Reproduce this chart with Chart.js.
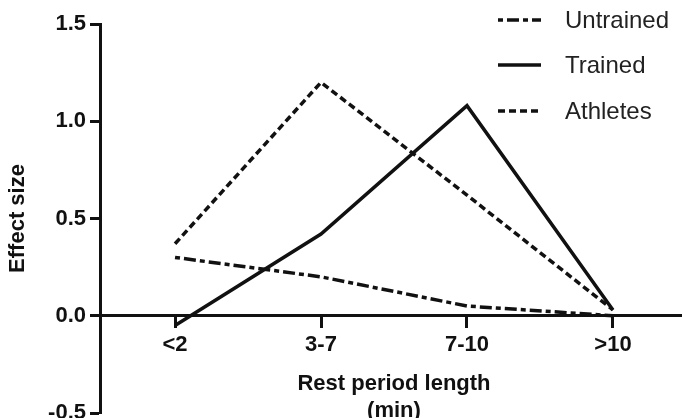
<!DOCTYPE html>
<html>
<head>
<meta charset="utf-8">
<script src="https://cdn.jsdelivr.net/npm/chart.js@4"></script>
<style>
  html, body { margin: 0; padding: 0; background: #fff; }
  canvas { display: block; }
</style>
</head>
<body>
<canvas id="effectChart" width="682" height="418"></canvas>
<script>
const categories = ['<2', '3-7', '7-10', '>10'];
const untrained = [0.30, 0.20, 0.05, 0.00];
const trained = [-0.05, 0.42, 1.08, 0.03];
const athletes = [0.37, 1.20, 0.62, 0.03];
const yTicks = [-0.5, 0.0, 0.5, 1.0, 1.5];

const ink = '#111';
const axisFont = 'Liberation Sans, Arial, Helvetica, sans-serif';

const toPoints = vals => vals.map((v, i) => ({ x: i, y: v }));

// legend + x axis title, drawn by hand to sit where the figure has them
const figureText = {
    id: 'figureText',
    afterDraw(chart) {
        const ctx = chart.ctx;
        const xs = chart.scales.x;
        ctx.save();
        ctx.fillStyle = ink;
        ctx.font = 'bold 22px ' + axisFont;
        ctx.textAlign = 'center';
        ctx.textBaseline = 'middle';
        const cx = xs.getPixelForValue((categories.length - 1) / 2);
        ctx.fillText('Rest period length', cx, 384);
        ctx.fillText('(min)', cx, 411);

        const rows = [20, 65, 111];
        chart.data.datasets.forEach((ds, i) => {
            const y = rows[i];
            ctx.beginPath();
            ctx.setLineDash(ds.borderDash || []);
            ctx.lineWidth = ds.borderWidth;
            ctx.strokeStyle = ds.borderColor;
            ctx.moveTo(498, y);
            ctx.lineTo(541, y);
            ctx.stroke();
            ctx.setLineDash([]);
            ctx.fillStyle = '#222';
            ctx.font = '24px ' + axisFont;
            ctx.textAlign = 'left';
            ctx.fillText(ds.label, 565, y + 1);
        });
        ctx.restore();
    }
};

const lineChart = new Chart(document.getElementById('effectChart'), {
    type: 'line',
    data: {
        datasets: [
            { label: 'Untrained', data: toPoints(untrained), borderColor: ink, borderWidth: 3.5, borderDash: [5, 4, 12, 4] },
            { label: 'Trained', data: toPoints(trained), borderColor: ink, borderWidth: 3.5, borderDash: [] },
            { label: 'Athletes', data: toPoints(athletes), borderColor: ink, borderWidth: 3.5, borderDash: [7, 4] }
        ]
    },
    options: {
        responsive: false,
        animation: false,
        devicePixelRatio: 1,
        elements: {
            point: { radius: 0 },
            line: { tension: 0, fill: false }
        },
        layout: { padding: { top: 24, bottom: 5, left: 0, right: 0 } },
        plugins: {
            legend: false,
            tooltip: { enabled: false }
        },
        scales: {
            x: {
                type: 'linear',
                position: { y: 0 },
                min: -0.514,
                max: 3.473,
                afterBuildTicks: scale => { scale.ticks = categories.map((c, i) => ({ value: i })); },
                afterFit: scale => { scale.paddingLeft = 0; scale.paddingRight = 0; },
                ticks: {
                    color: ink,
                    font: { family: axisFont, size: 22, weight: 'bold' },
                    padding: 5,
                    maxRotation: 0,
                    callback: v => categories[v]
                },
                grid: { drawOnChartArea: false, drawTicks: true, tickLength: 11, tickWidth: 3, tickColor: ink },
                border: { display: true, width: 3, color: ink }
            },
            y: {
                min: -0.5,
                max: 1.5,
                afterBuildTicks: scale => { scale.ticks = yTicks.map(v => ({ value: v })); },
                afterFit: scale => { scale.width = 100; scale.paddingTop = 0; scale.paddingBottom = 0; },
                ticks: {
                    color: ink,
                    font: { family: axisFont, size: 22, weight: 'bold' },
                    padding: 4,
                    callback: v => v.toFixed(1)
                },
                grid: { drawOnChartArea: false, drawTicks: true, tickLength: 10, tickWidth: 3, tickColor: ink },
                border: { display: true, width: 3, color: ink },
                title: {
                    display: true,
                    text: 'Effect size',
                    color: ink,
                    font: { family: axisFont, size: 22, weight: 'bold' },
                    padding: { top: 5, bottom: 0 }
                }
            }
        }
    },
    plugins: [figureText]
});
</script>
</body>
</html>
